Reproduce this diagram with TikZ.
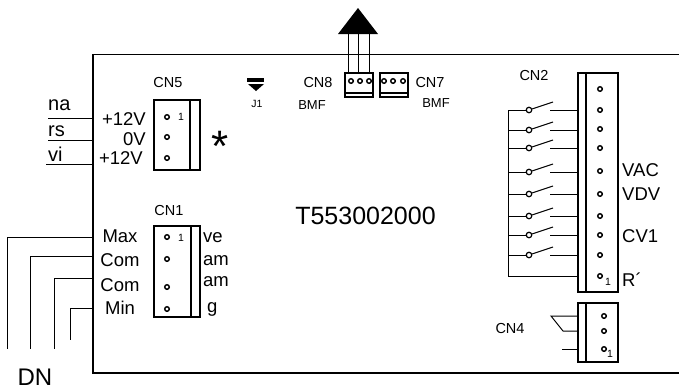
\documentclass[tikz,border=0pt]{standalone}
\usepackage{fontspec}
\setmainfont{Liberation Sans}
\usetikzlibrary{calc,positioning}
\tikzstyle{board} = [draw, line width=1.5pt]
\tikzstyle{wire} = [draw, line width=1pt]
\tikzstyle{conn} = [rectangle, draw, line width=1.4pt, inner sep=0pt]
\tikzstyle{pin} = [circle, draw, fill=white, line width=1.4pt, inner sep=0pt, minimum size=4.6pt]
\tikzstyle{contact} = [circle, draw, fill=white, line width=1.2pt, inner sep=0pt, minimum size=5.5pt]
\tikzstyle{big} = [inner sep=0pt, font={\fontsize{18.5}{20}\selectfont}]
\tikzstyle{small} = [inner sep=0pt, font={\fontsize{14.5}{16}\selectfont}]
\tikzstyle{tiny} = [inner sep=0pt, font={\fontsize{10.5}{12}\selectfont}]
\begin{document}
\begin{tikzpicture}[x=1pt, y=-1pt]
  \useasboundingbox (0,0) rectangle (679,389);
  % board outline
  \coordinate (topright) at (679,54.5);
  \coordinate (topleft) at (93,54.5);
  \coordinate (botleft) at (93,373);
  \coordinate (botright) at (679,373);
  \path [board] (topright) -- (topleft) -- (botleft) -- (botright);
  \node [inner sep=0pt, font={\fontsize{25}{27}\selectfont}] (partno) at (365.5,216) {T553002000};

  % CN5
  \node [conn, minimum width=46pt, minimum height=70pt] (cn5) at (177,135) {};
  \path [board] (190,100) -- (190,170);
  \node [small] (cn5label) at (168,83) {CN5};
  \node [tiny] (cn5one) at (181,117) {1};
  \foreach \n/\y in {a/117,b/137,c/158}
    \node [pin] (cn5\n) at (167,\y) {};
  \node [big, anchor=east] (plusa) at (146,119) {+12V};
  \node [big, anchor=east] (zero) at (146,139) {0V};
  \node [big, anchor=east] (plusb) at (143,158) {+12V};
  \node [inner sep=0pt, font={\fontsize{44}{44}\selectfont}] (star) at (220,146) {*};
  \coordinate (naend) at (48,118);
  \coordinate (rsend) at (48,140);
  \coordinate (viend) at (46,164);
  \path [wire] (naend) -- (93,118);
  \path [wire] (rsend) -- (93,140);
  \path [wire] (viend) -- (93,164);
  \node [inner sep=0pt, anchor=west, font={\fontsize{20}{22}\selectfont}] (na) at (48,105) {na};
  \node [inner sep=0pt, anchor=west, font={\fontsize{20}{22}\selectfont}] (rs) at (48,131) {rs};
  \node [inner sep=0pt, anchor=west, font={\fontsize{20}{22}\selectfont}] (vi) at (48,154) {vi};

  % CN1
  \node [conn, minimum width=46pt, minimum height=91pt] (cn1) at (177,271.5) {};
  \path [board] (191,226) -- (191,317);
  \node [small] (cn1label) at (169,211) {CN1};
  \node [tiny] (cn1one) at (181,238) {1};
  \foreach \n/\y in {a/237,b/259,c/287,d/309}
    \node [pin] (cn1\n) at (167,\y) {};
  \node [big] (max) at (120,236) {Max};
  \node [big] (coma) at (120,260) {Com};
  \node [big] (comb) at (120,285) {Com};
  \node [big] (min) at (120,308) {Min};
  \node [big, anchor=west] (ve) at (203,238) {ve};
  \node [big, anchor=west] (ama) at (203,261) {am};
  \node [big, anchor=west] (amb) at (203,282) {am};
  \node [big, anchor=west] (g) at (207,309) {g};
  \coordinate (maxend) at (7,349);
  \coordinate (comaend) at (30,349);
  \coordinate (combend) at (54,349);
  \coordinate (minend) at (70,340);
  \path [wire] (93,237) -| (maxend);
  \path [wire] (93,256) -| (comaend);
  \path [wire] (93,278) -| (combend);
  \path [wire] (93,308) -| (minend);
  \node [inner sep=0pt, font={\fontsize{24}{26}\selectfont}] (dn) at (35,377) {DN};

  % J1
  \path [fill] (247,78) rectangle (264,82);
  \path [fill] (248,84) -- (264,84) -- (256,91) -- cycle;
  \node [tiny] (j1) at (257,104) {J1};

  % CN8, CN7
  \node [conn, minimum width=28pt, minimum height=24pt] (cn8) at (359,85) {};
  \path [board] (345,93) -- (373,93);
  \node [conn, minimum width=28pt, minimum height=24pt] (cn7) at (394,85) {};
  \path [board] (380,93) -- (408,93);
  \foreach \n/\x in {a/351,b/360,c/369}
    \node [pin] (cn8\n) at (\x,81) {};
  \foreach \n/\x in {a/384,b/393,c/403}
    \node [pin] (cn7\n) at (\x,81) {};
  \node [small] (cn8label) at (318,83) {CN8};
  \node [small] (cn7label) at (430,83) {CN7};
  \node [inner sep=0pt, font={\fontsize{13}{14}\selectfont}] (bmfa) at (312,105) {BMF};
  \node [inner sep=0pt, font={\fontsize{13}{14}\selectfont}] (bmfb) at (436,103) {BMF};
  \path [fill] (358,8) -- (378,34) -- (338,34) -- cycle;
  \foreach \x in {348,358.5,369}
    \path [wire] (\x,34) -- (\x,73);

  % CN2
  \node [conn, minimum width=40pt, minimum height=219pt] (cn2) at (598,182.5) {};
  \path [board] (586,73) -- (586,292);
  \node [small] (cn2label) at (534,76) {CN2};
  \foreach \n/\y in {a/89,b/110,c/129,d/148,e/171,f/194,g/216,h/235,i/255,j/276}
    \node [pin] (cn2\n) at (600,\y) {};
  \node [tiny] (cn2one) at (608,282) {1};
  \node [big, anchor=west] (vac) at (622,170) {VAC};
  \node [big, anchor=west] (vdv) at (622,194) {VDV};
  \node [big, anchor=west] (cvone) at (622,236) {CV1};
  \node [big, anchor=west] (rr) at (622,280) {R´};
  % switches
  \coordinate (swtop) at (508,110);
  \coordinate (swbot) at (508,276);
  \path [wire] (swtop) -- (swbot) -- (578,276);
  \foreach \n/\y in {a/110,b/130,c/148,d/172,e/194,f/216,g/235,h/255} {
    \node [contact] (sw\n) at (529,\y) {};
    \coordinate (arm\n) at (553,\y-8);
    \path [wire] (508,\y) -- (sw\n);
    \path [wire] (sw\n) -- (arm\n);
    \path [wire] (550,\y) -- (578,\y);
  }

  % CN4
  \node [conn, minimum width=40pt, minimum height=59pt] (cn4) at (598,332.5) {};
  \path [board] (586,303) -- (586,362);
  \node [small] (cn4label) at (510,328) {CN4};
  \foreach \n/\y in {a/316,b/331,c/349}
    \node [pin] (cn4\n) at (604,\y) {};
  \node [tiny] (cn4one) at (610,354) {1};
  \path [wire] (578,316) -- (551,316) -- (563,331) -- (578,331);
  \path [wire] (562,349) -- (578,349);
\end{tikzpicture}
\end{document}
